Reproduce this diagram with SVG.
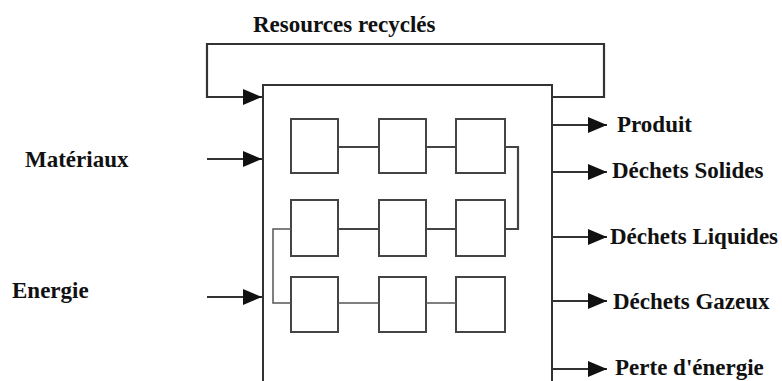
<svg xmlns="http://www.w3.org/2000/svg" width="782" height="381" viewBox="0 0 782 381">
  <style>
    .lbl { font-family: "Liberation Serif", "Times New Roman", serif; font-weight: bold; font-size: 23px; fill: #111; }
    .frame { fill: none; stroke: #333; stroke-width: 2; }
    .unit { fill: #fff; stroke: #444; stroke-width: 2; }
    .wire { fill: none; stroke: #444; stroke-width: 2.2; }
    .wire-thin { fill: none; stroke: #555; stroke-width: 1.5; }
    .flow { fill: none; stroke: #333; stroke-width: 2.2; marker-end: url(#arrow); }
  </style>
  <defs>
    <marker id="arrow" markerUnits="userSpaceOnUse" markerWidth="20" markerHeight="16" refX="19" refY="8" orient="auto">
      <path d="M0,0 L19,8 L0,16 z" fill="#111"/>
    </marker>
  </defs>
  <rect width="782" height="381" fill="#fff"/>

  <g id="process">
    <path class="frame" d="M263,381 V85 H552 V381"/>
  </g>

  <g id="unit-1-1"><rect class="unit" x="291" y="119" width="47" height="54"/></g>
  <g id="unit-1-2"><rect class="unit" x="379" y="119" width="47" height="54"/></g>
  <g id="unit-1-3"><rect class="unit" x="456" y="119" width="49" height="54"/></g>
  <g id="unit-2-1"><rect class="unit" x="291" y="200" width="47" height="56"/></g>
  <g id="unit-2-2"><rect class="unit" x="379" y="200" width="47" height="56"/></g>
  <g id="unit-2-3"><rect class="unit" x="456" y="200" width="49" height="56"/></g>
  <g id="unit-3-1"><rect class="unit" x="291" y="277" width="47" height="55"/></g>
  <g id="unit-3-2"><rect class="unit" x="379" y="277" width="47" height="55"/></g>
  <g id="unit-3-3"><rect class="unit" x="456" y="277" width="49" height="55"/></g>

  <g id="connectors">
    <!-- internal chain -->
    <path class="wire" d="M338,147 H379 M426,147 H456"/>
    <path class="wire" d="M505,147 H518 V229 H505"/>
    <path class="wire" d="M338,229 H379 M426,229 H456"/>
    <path class="wire-thin" d="M291,229 H273 V303 H291"/>
    <path class="wire-thin" d="M338,303 H379 M426,303 H456"/>
    <!-- recycling loop -->
    <path class="flow" d="M552,97 H604 V44 H207 V97 H262"/>
    <!-- inputs -->
    <path class="flow" d="M207,159 H262"/>
    <path class="flow" d="M207,297 H262"/>
    <!-- outputs -->
    <path class="flow" d="M552,125 H607"/>
    <path class="flow" d="M552,172 H607"/>
    <path class="flow" d="M552,237 H607"/>
    <path class="flow" d="M552,301 H607"/>
    <path class="flow" d="M552,369 H607"/>
  </g>

  <g id="label-recycles"><text class="lbl" x="253" y="32">Resources recyclés</text></g>
  <g id="label-materiaux"><text class="lbl" x="25" y="167">Matériaux</text></g>
  <g id="label-energie"><text class="lbl" x="12" y="298">Energie</text></g>
  <g id="label-produit"><text class="lbl" x="617" y="132">Produit</text></g>
  <g id="label-solides"><text class="lbl" x="612" y="178">Déchets Solides</text></g>
  <g id="label-liquides"><text class="lbl" x="610" y="244">Déchets Liquides</text></g>
  <g id="label-gazeux"><text class="lbl" x="613" y="309">Déchets Gazeux</text></g>
  <g id="label-perte"><text class="lbl" x="615" y="375">Perte d'énergie</text></g>
</svg>
